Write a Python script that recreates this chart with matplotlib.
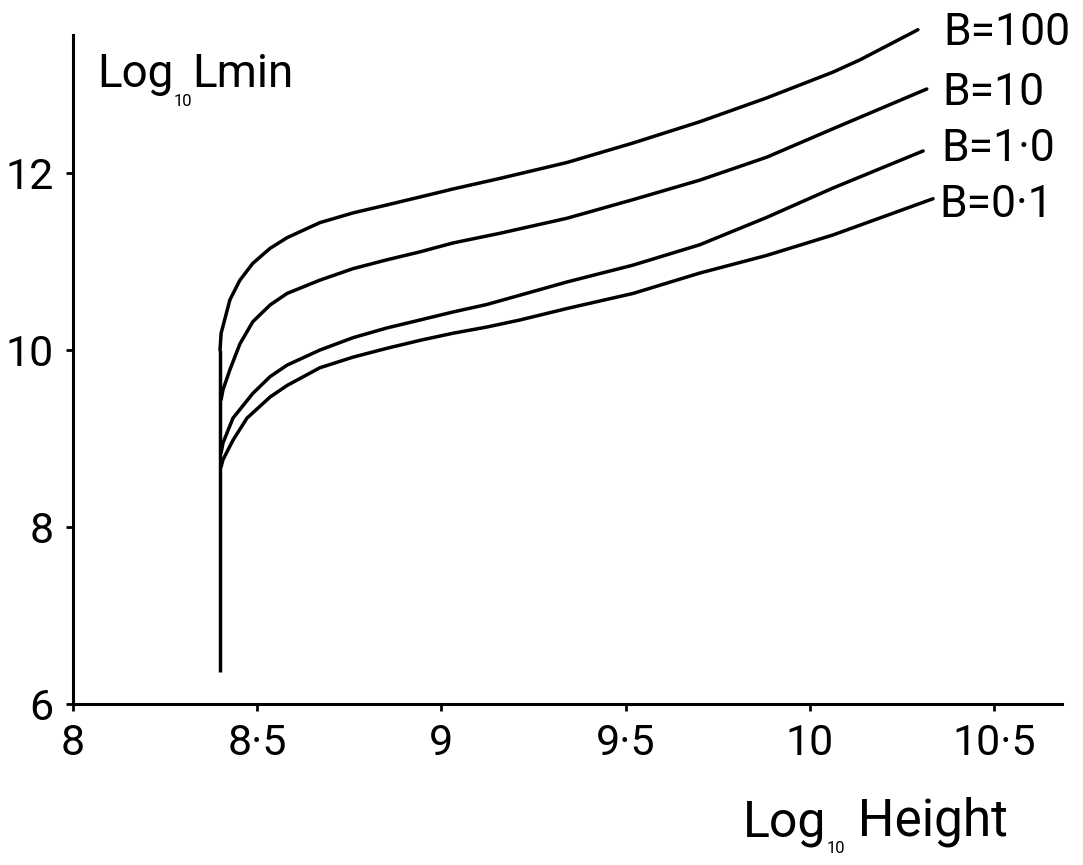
import matplotlib
matplotlib.use('Agg')
import matplotlib.pyplot as plt

x_stem = [8.40, 8.40]
y_stem = [6.36, 10.00]

x_b100 = [8.399, 8.402, 8.426, 8.453, 8.488, 8.535, 8.581, 8.670, 8.760, 8.852, 8.942,
          9.031, 9.159, 9.341, 9.520, 9.701, 9.883, 10.062, 10.136, 10.293]
y_b100 = [10.00, 10.19, 10.57, 10.79, 10.98, 11.15, 11.27, 11.44, 11.55, 11.64, 11.73,
          11.82, 11.94, 12.12, 12.34, 12.58, 12.85, 13.14, 13.28, 13.62]

x_b10 = [8.402, 8.407, 8.426, 8.453, 8.488, 8.535, 8.581, 8.670, 8.760, 8.852, 8.942,
         9.031, 9.159, 9.341, 9.520, 9.701, 9.883, 10.062, 10.317]
y_b10 = [9.44, 9.55, 9.78, 10.07, 10.32, 10.51, 10.64, 10.79, 10.92, 11.02, 11.11,
         11.21, 11.32, 11.49, 11.70, 11.92, 12.18, 12.50, 12.95]

x_b1 = [8.402, 8.407, 8.434, 8.488, 8.535, 8.581, 8.670, 8.760, 8.852, 8.942, 9.031,
        9.123, 9.213, 9.341, 9.520, 9.701, 9.883, 10.062, 10.307]
y_b1 = [8.84, 8.95, 9.23, 9.51, 9.70, 9.83, 10.00, 10.14, 10.25, 10.34, 10.43,
        10.515, 10.62, 10.77, 10.96, 11.19, 11.50, 11.83, 12.25]

x_b01 = [8.402, 8.407, 8.434, 8.472, 8.535, 8.581, 8.670, 8.760, 8.852, 8.942, 9.031,
         9.123, 9.213, 9.341, 9.520, 9.701, 9.883, 10.062, 10.334]
y_b01 = [8.68, 8.76, 8.98, 9.23, 9.47, 9.60, 9.80, 9.92, 10.02, 10.11, 10.19,
         10.26, 10.34, 10.47, 10.64, 10.87, 11.07, 11.30, 11.71]

curve_labels = ['B=100', 'B=10', 'B=1\u00b70', 'B=0\u00b71']
xticks = [8, 8.5, 9, 9.5, 10, 10.5]
xtick_labels = ['8', '8\u00b75', '9', '9\u00b75', '10', '10\u00b75']
yticks = [6, 8, 10, 12]
ytick_labels = ['6', '8', '10', '12']

plt.rcParams['font.family'] = ['Roboto', 'DejaVu Sans']
plt.rcParams['font.weight'] = 'normal'

fig = plt.figure(figsize=(10.83, 8.65), dpi=100)
ax = fig.add_axes([0.0674, 0.1861, 0.9132, 0.7734])

lw = 2.5
ax.plot(x_stem, y_stem, color='black', lw=lw, solid_capstyle='butt')
curves = [(x_b100, y_b100), (x_b10, y_b10), (x_b1, y_b1), (x_b01, y_b01)]
for xs, ys in curves:
    ax.plot(xs, ys, color='black', lw=lw, clip_on=False,
            solid_joinstyle='round', solid_capstyle='round')

# labels at the right end of each curve
offsets = [(25, -3), (16, -4), (18, 2), (6, -6)]
for (xs, ys), lab, off in zip(curves, curve_labels, offsets):
    ax.annotate(lab, xy=(xs[-1], ys[-1]), xytext=off, textcoords='offset pixels',
                ha='left', va='center', fontsize=32, annotation_clip=False)

ax.set_xlim(8, 10.684)
ax.set_ylim(6, 13.56)
ax.spines['top'].set_visible(False)
ax.spines['right'].set_visible(False)
ax.spines['left'].set_linewidth(2.2)
ax.spines['bottom'].set_linewidth(2.2)
ax.set_xticks(xticks)
ax.set_xticklabels(xtick_labels)
ax.set_yticks(yticks)
ax.set_yticklabels(ytick_labels)
ax.tick_params(axis='both', direction='out', length=5, width=2, labelsize=31)
ax.tick_params(axis='x', pad=9)
ax.tick_params(axis='y', pad=9)

# y label: Log10Lmin with tiny subscript
t1 = ax.text(0.025, 0.922, 'Log', transform=ax.transAxes, fontsize=33,
             ha='left', va='baseline')
t2 = ax.annotate('10', xy=(1, 0.05), xycoords=t1, fontsize=12,
                 ha='left', va='top')
ax.annotate('Lmin', xy=(1, 0), xycoords=(t2, t1), fontsize=33,
            ha='left', va='bottom')

# x label: Log10 Height
u1 = fig.text(0.686, 0.033, 'Log', fontsize=36, ha='left', va='baseline')
u2 = ax.annotate('10', xy=(1, 0.12), xycoords=u1, fontsize=12,
                 ha='left', va='top', annotation_clip=False)
ax.annotate(' Height', xy=(1, 0), xycoords=(u2, u1), fontsize=37,
            ha='left', va='bottom', annotation_clip=False)

fig.savefig('out.png', dpi=100, facecolor='white')
